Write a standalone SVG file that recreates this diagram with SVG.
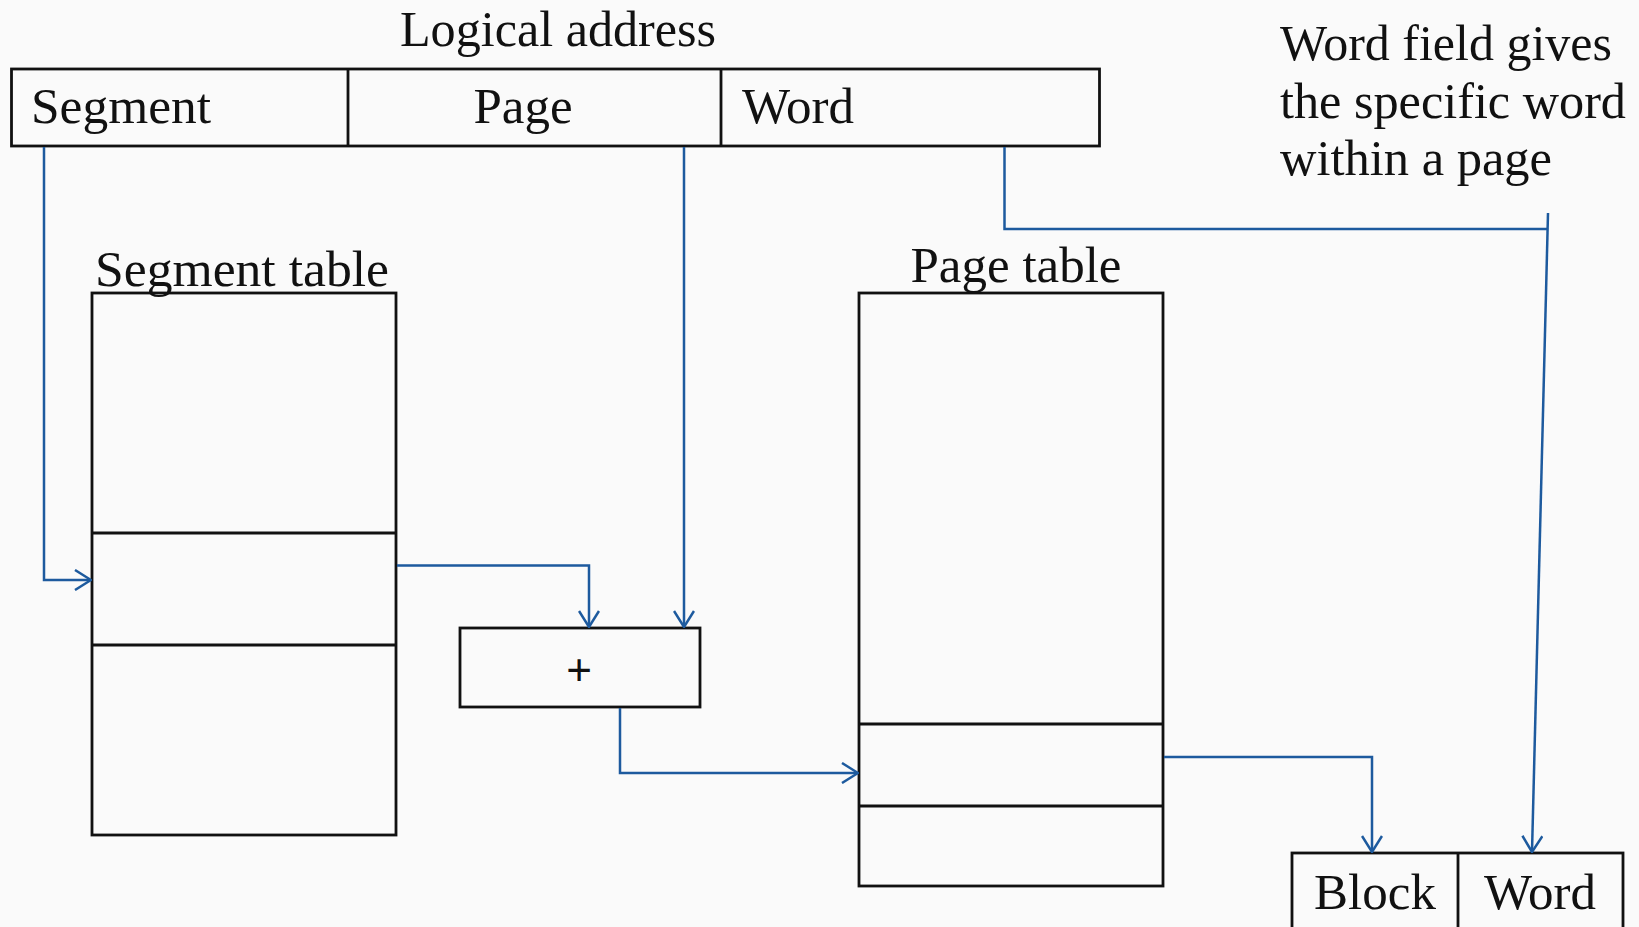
<svg xmlns="http://www.w3.org/2000/svg" width="1639" height="927" viewBox="0 0 1639 927">
  <style>
    .box { fill: none; stroke: #111; stroke-width: 2.8; }
    .lbl { font-family: "Liberation Serif", "Times New Roman", serif; font-size: 51px; fill: #111; }
    .wire { fill: none; stroke: #1d5a9e; stroke-width: 2.5; }
    .plus { font-family: "Liberation Sans", Arial, sans-serif; font-size: 44px; fill: #111; }
  </style>
  <defs>
    <marker id="arrow" viewBox="0 0 18 22" refX="17" refY="11" markerWidth="18" markerHeight="22" markerUnits="userSpaceOnUse" orient="auto">
      <path d="M1,1 L17,11 L1,21" fill="none" stroke="#1d5a9e" stroke-width="2.5"/>
    </marker>
  </defs>

  <rect x="0" y="0" width="1639" height="927" fill="#fafafa"/>

  <!-- logical address: segment | page | word -->
  <g id="logical-address">
    <text class="lbl" x="400" y="46" textLength="316" lengthAdjust="spacingAndGlyphs">Logical address</text>
    <rect class="box" x="11.5" y="69" width="1088" height="77"/>
    <line class="box" x1="348" y1="69" x2="348" y2="146"/>
    <line class="box" x1="721" y1="69" x2="721" y2="146"/>
    <text class="lbl" x="31" y="123" textLength="180" lengthAdjust="spacingAndGlyphs">Segment</text>
    <text class="lbl" x="523" y="123" text-anchor="middle">Page</text>
    <text class="lbl" x="742" y="123">Word</text>
  </g>

  <!-- note about the word field -->
  <g id="word-note">
    <text class="lbl" x="1280" y="60" textLength="332" lengthAdjust="spacingAndGlyphs">Word field gives</text>
    <text class="lbl" x="1280" y="118" textLength="346" lengthAdjust="spacingAndGlyphs">the specific word</text>
    <text class="lbl" x="1280" y="175" textLength="272" lengthAdjust="spacingAndGlyphs">within a page</text>
  </g>

  <!-- segment table -->
  <g id="segment-table">
    <text class="lbl" x="95" y="286" textLength="294" lengthAdjust="spacingAndGlyphs">Segment table</text>
    <rect class="box" x="92" y="293" width="304" height="542"/>
    <line class="box" x1="92" y1="533" x2="396" y2="533"/>
    <line class="box" x1="92" y1="645" x2="396" y2="645"/>
  </g>

  <!-- adder -->
  <g id="adder">
    <rect class="box" x="460" y="628" width="240" height="79"/>
    <text class="plus" x="579" y="685" text-anchor="middle">+</text>
  </g>

  <!-- page table -->
  <g id="page-table">
    <text class="lbl" x="1016" y="282" text-anchor="middle">Page table</text>
    <rect class="box" x="859" y="293" width="304" height="593"/>
    <line class="box" x1="859" y1="724" x2="1163" y2="724"/>
    <line class="box" x1="859" y1="806" x2="1163" y2="806"/>
  </g>

  <!-- physical address: block | word -->
  <g id="physical-address">
    <rect class="box" x="1292" y="853" width="331" height="90"/>
    <line class="box" x1="1458" y1="853" x2="1458" y2="930"/>
    <text class="lbl" x="1375" y="909" text-anchor="middle">Block</text>
    <text class="lbl" x="1540" y="909" text-anchor="middle">Word</text>
  </g>

  <g id="connectors">
    <polyline class="wire" points="44,147 44,580 91,580" marker-end="url(#arrow)"/>
    <polyline class="wire" points="684,147 684,627" marker-end="url(#arrow)"/>
    <polyline class="wire" points="397,565.5 589,565.5 589,627" marker-end="url(#arrow)"/>
    <polyline class="wire" points="620,708 620,773 858,773" marker-end="url(#arrow)"/>
    <polyline class="wire" points="1164,757 1372,757 1372,852" marker-end="url(#arrow)"/>
    <polyline class="wire" points="1004.5,147 1004.5,229 1548,229"/>
    <line class="wire" x1="1548" y1="213" x2="1532" y2="852" marker-end="url(#arrow)"/>
  </g>
</svg>
